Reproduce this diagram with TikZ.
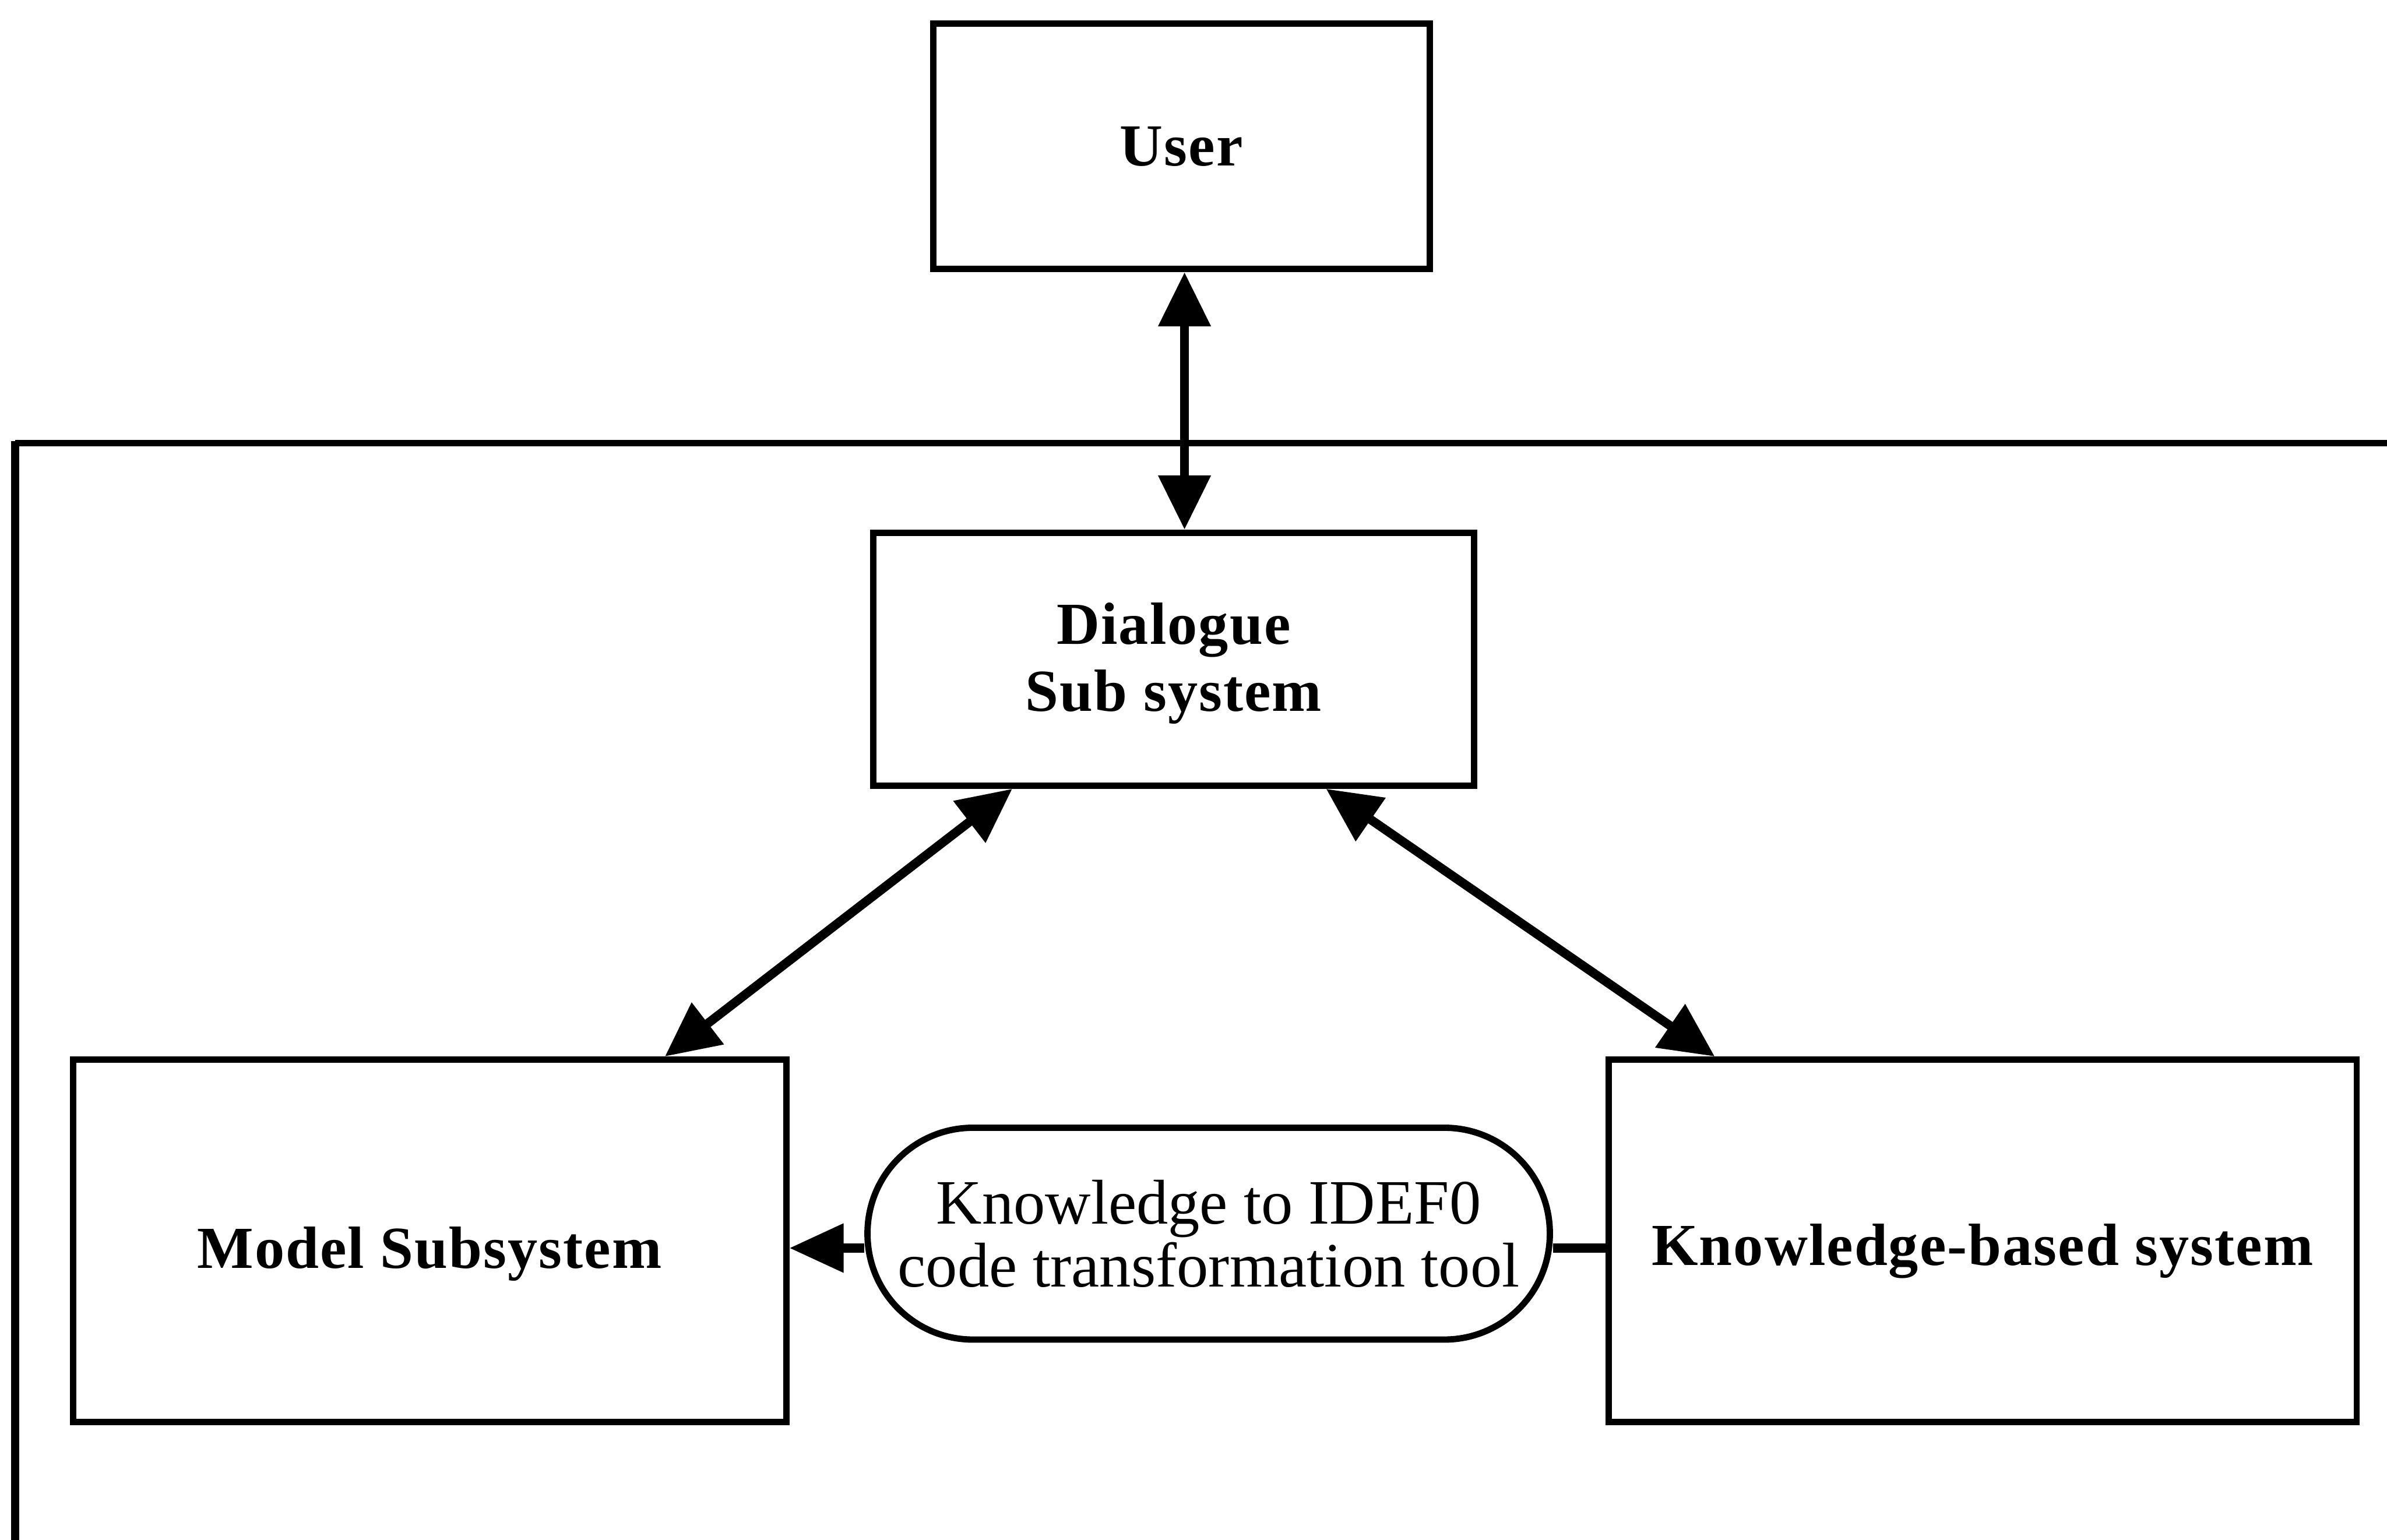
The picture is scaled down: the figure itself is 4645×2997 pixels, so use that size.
\documentclass[tikz,border=0pt]{standalone}
\usepackage{fontspec}
\setmainfont{Liberation Serif}
\usetikzlibrary{arrows.meta,calc}
\newcommand{\lowered}[2]{\raisebox{-#1}[\height][\depth]{#2}}
\begin{document}
\begin{tikzpicture}[x=0.01cm,y=-0.01cm,
  box/.style={draw,line width=3.5pt,rectangle,inner sep=0pt,align=center,
    font=\fontsize{33}{37}\selectfont\bfseries\addfontfeatures{LetterSpace=2}},
  toolbox/.style={draw,line width=3.5pt,rectangle,rounded corners=2.05cm,inner sep=0pt,
    align=center,font=\fontsize{35}{35}\selectfont},
  both/.style={line width=5pt,{Triangle[length=30pt,width=28pt]}-{Triangle[length=30pt,width=28pt]}},
  one/.style={line width=5pt,-{Triangle[length=30pt,width=26pt]}},
  plain/.style={line width=5pt}]
  \useasboundingbox (0,0) rectangle (4645,2997);

  % enclosing system frame, open to the right and below
  \draw[line width=3.5pt] (30,862) -- (4645,862);
  \draw[line width=4.5pt] (30,2997) -- (30,858);

  % blocks
  \node[box,minimum width=9.66cm,minimum height=4.77cm] (user) at (2299,285) {User};
  \node[box,minimum width=11.68cm,minimum height=4.92cm] (dial) at (2284,1283)
    {\lowered{0.08cm}{Dialogue}\\\lowered{0.08cm}{Sub system}};
  \node[box,minimum width=13.87cm,minimum height=7.05cm] (model) at (836,2415)
    {\lowered{0.25cm}{Model Subsystem}};
  \node[box,minimum width=14.55cm,minimum height=7.05cm] (kbs) at (3858,2415)
    {\lowered{0.2cm}{Knowledge-based system}};
  \node[toolbox,minimum width=13.27cm,minimum height=4.12cm] (tool) at (2352,2401)
    {Knowledge to IDEF0\\code transformation tool};

  % connectors
  \coordinate (row) at (0,2429);
  \draw[both] (user.south -| 2305,0) -- (dial.north -| 2305,0);
  \draw[both] ($(dial.south west)!0.234!(dial.south east)$) -- ($(model.north west)!0.827!(model.north east)$);
  \draw[both] ($(dial.south west)!0.751!(dial.south east)$) -- ($(kbs.north west)!0.145!(kbs.north east)$);
  \draw[one] (tool.west |- row) -- (model.east |- row);
  \draw[plain] (kbs.west |- row) -- (tool.east |- row);
\end{tikzpicture}
\end{document}
